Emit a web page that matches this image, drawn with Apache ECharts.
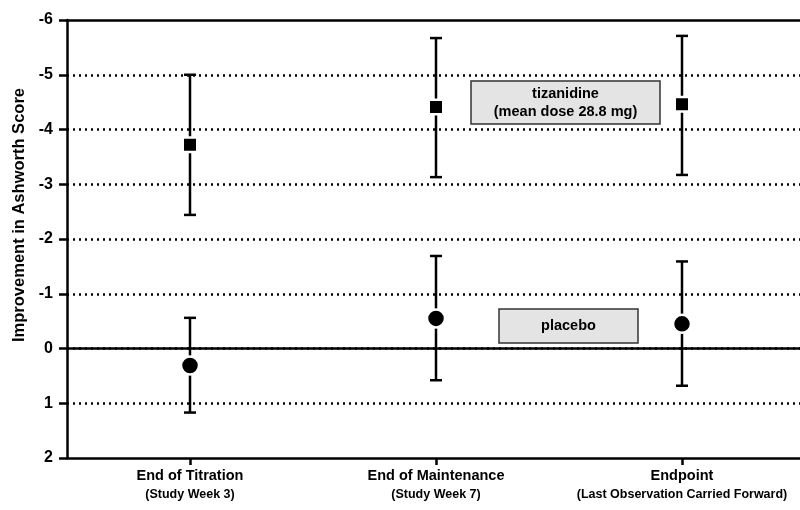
<!DOCTYPE html>
<html>
<head>
<meta charset="utf-8">
<script src="https://cdn.jsdelivr.net/npm/echarts@6/dist/echarts.min.js"></script>
<style>
  html, body { margin: 0; padding: 0; background: #fff; }
  #main { width: 800px; height: 510px; }
</style>
</head>
<body>
<div id="main"></div>
<script>
const categories = ['End of Titration', 'End of Maintenance', 'Endpoint']
const subLabels = ['(Study Week 3)', '(Study Week 7)', '(Last Observation Carried Forward)']
const yTicks = [-6, -5, -4, -3, -2, -1, 0, 1, 2]

// tizanidine: mean, upper end, lower end of the error bar
const tizMean = [-3.72, -4.41, -4.46]
const tizHigh = [-5.0, -5.67, -5.71]
const tizLow = [-2.44, -3.13, -3.17]

// placebo
const plaMean = [0.31, -0.55, -0.45]
const plaHigh = [-0.56, -1.69, -1.59]
const plaLow = [1.17, 0.58, 0.68]

const FONT = 'Liberation Sans, Arial, Helvetica, sans-serif'

const errorBars = (high, low) => high.map((h, i) => [i, h, low[i]])

const renderBar = (params, api) => {
  const top = api.coord([api.value(0), api.value(1)])
  const bot = api.coord([api.value(0), api.value(2)])
  const half = 6
  const style = { stroke: '#000', lineWidth: 2.5 }
  return {
    type: 'group',
    children: [
      { type: 'line', shape: { x1: top[0], y1: top[1], x2: bot[0], y2: bot[1] }, style },
      { type: 'line', shape: { x1: top[0] - half, y1: top[1], x2: top[0] + half, y2: top[1] }, style },
      { type: 'line', shape: { x1: bot[0] - half, y1: bot[1], x2: bot[0] + half, y2: bot[1] }, style }
    ]
  }
}

const myChart = echarts.init(document.getElementById('main'))
const option = {
  animation: false,
  textStyle: { fontFamily: FONT },
  // plot runs a little past the right edge of the picture
  grid: { left: 67, top: 20, bottom: 52, width: 738, outerBoundsMode: 'none', containLabel: false },
  xAxis: [
    {
      type: 'category',
      data: categories,
      boundaryGap: true,
      axisLine: { onZero: false, lineStyle: { color: '#000', width: 2.5 } },
      axisTick: { show: true, alignWithLabel: true, length: 7, lineStyle: { color: '#000', width: 2.5 } },
      axisLabel: {
        margin: 8,
        interval: 0,
        formatter: (v, i) => '{a|' + v + '}\n{b|' + subLabels[i] + '}',
        rich: {
          a: { fontFamily: FONT, fontWeight: 'bold', fontSize: 14.5, color: '#000', lineHeight: 20 },
          b: { fontFamily: FONT, fontWeight: 'bold', fontSize: 12.5, color: '#000', lineHeight: 17 }
        }
      }
    },
    {
      type: 'category',
      position: 'top',
      data: categories,
      axisLine: { onZero: false, lineStyle: { color: '#000', width: 2.5 } },
      axisTick: { show: false },
      axisLabel: { show: false }
    }
  ],
  yAxis: {
    type: 'value',
    inverse: true,
    min: yTicks[0],
    max: yTicks[yTicks.length - 1],
    interval: 1,
    axisLine: { show: true, onZero: false, lineStyle: { color: '#000', width: 2.5 } },
    axisTick: { show: true, length: 8, lineStyle: { color: '#000', width: 2.5 } },
    axisLabel: { margin: 14, fontFamily: FONT, fontWeight: 'bold', fontSize: 16, color: '#000' },
    splitLine: {
      show: true,
      showMinLine: false,
      showMaxLine: false,
      lineStyle: { color: '#000', width: 2.5, type: [2, 4] }
    }
  },
  series: [
    {
      name: 'tizanidine bars',
      type: 'custom',
      renderItem: renderBar,
      data: errorBars(tizHigh, tizLow),
      z: 3
    },
    {
      name: 'placebo bars',
      type: 'custom',
      renderItem: renderBar,
      data: errorBars(plaHigh, plaLow),
      z: 3
    },
    {
      name: 'tizanidine',
      type: 'scatter',
      symbol: 'rect',
      symbolSize: 14.5,
      itemStyle: { color: '#000', opacity: 1, borderColor: '#fff', borderWidth: 2.5 },
      data: tizMean.map((v, i) => [i, v]),
      z: 5
    },
    {
      name: 'placebo',
      type: 'scatter',
      symbol: 'circle',
      symbolSize: 18,
      itemStyle: { color: '#000', opacity: 1, borderColor: '#fff', borderWidth: 2.5 },
      data: plaMean.map((v, i) => [i, v]),
      z: 5,
      markLine: {
        silent: true,
        symbol: 'none',
        label: { show: false },
        lineStyle: { color: '#000', width: 2.5, type: 'solid' },
        data: [{ yAxis: 0 }],
        z: 2
      }
    }
  ],
  graphic: [
    {
      type: 'rect',
      shape: { x: 471, y: 81, width: 189, height: 43 },
      style: { fill: '#e4e4e4', stroke: '#333', lineWidth: 1.5 },
      z: 10
    },
    {
      type: 'text',
      x: 565.5,
      y: 102.5,
      style: {
        text: 'tizanidine\n(mean dose 28.8 mg)',
        fontFamily: FONT,
        fontWeight: 'bold',
        fontSize: 14.5,
        lineHeight: 18,
        fill: '#000',
        align: 'center',
        verticalAlign: 'middle'
      },
      z: 11
    },
    {
      type: 'rect',
      shape: { x: 499, y: 309, width: 139, height: 34 },
      style: { fill: '#e4e4e4', stroke: '#333', lineWidth: 1.5 },
      z: 10
    },
    {
      type: 'text',
      x: 568.5,
      y: 326,
      style: {
        text: 'placebo',
        fontFamily: FONT,
        fontWeight: 'bold',
        fontSize: 14.5,
        fill: '#000',
        align: 'center',
        verticalAlign: 'middle'
      },
      z: 11
    },
    {
      type: 'text',
      x: 19,
      y: 215,
      rotation: Math.PI / 2,
      style: {
        text: 'Improvement in Ashworth Score',
        fontFamily: FONT,
        fontWeight: 'bold',
        fontSize: 16.5,
        fill: '#000',
        align: 'center',
        verticalAlign: 'middle'
      }
    }
  ]
}
myChart.setOption(option)
</script>
</body>
</html>
